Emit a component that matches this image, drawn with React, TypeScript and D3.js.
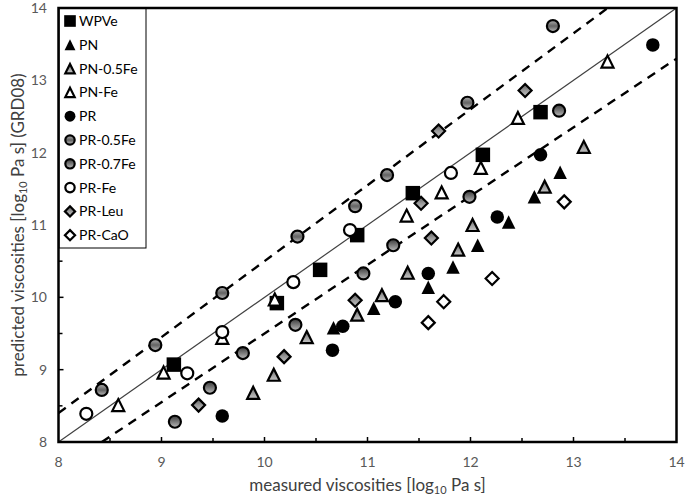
import React from 'react';
import * as d3 from 'd3';

const wpve = [[9.12, 9.07], [10.12, 9.92], [10.54, 10.38], [10.9, 10.86], [11.44, 11.44], [12.12, 11.97], [12.68, 12.56]];
const pn = [[10.67, 9.58], [11.06, 9.85], [11.59, 10.14], [11.83, 10.42], [12.07, 10.72], [12.37, 11.04], [12.62, 11.39], [12.87, 11.73]];
const pn05fe = [[9.89, 8.68], [10.09, 8.93], [10.41, 9.45], [10.9, 9.76], [11.14, 10.03], [11.39, 10.34], [11.88, 10.66], [12.02, 11.0], [12.72, 11.53], [13.1, 12.08]];
const pnfe = [[8.58, 8.51], [9.02, 8.96], [9.59, 9.44], [10.1, 9.97], [11.38, 11.13], [11.72, 11.45], [12.1, 11.79], [12.46, 12.48], [13.33, 13.26]];
const pr = [[9.59, 8.36], [10.66, 9.27], [10.76, 9.6], [11.27, 9.94], [11.59, 10.33], [12.26, 11.11], [12.68, 11.97], [13.77, 13.49]];
const pr05fe = [[8.42, 8.72], [8.94, 9.34], [9.59, 10.06], [10.32, 10.84], [10.88, 11.26], [11.19, 11.69], [11.97, 12.69], [12.8, 13.75]];
const pr07fe = [[9.13, 8.28], [9.47, 8.75], [9.79, 9.23], [10.3, 9.62], [10.96, 10.33], [11.25, 10.72], [11.99, 11.39], [12.86, 12.58]];
const prfe = [[8.27, 8.39], [9.25, 8.95], [9.59, 9.52], [10.28, 10.21], [10.83, 10.93], [11.81, 11.72]];
const prleu = [[9.36, 8.51], [10.19, 9.18], [10.88, 9.96], [11.62, 10.82], [11.52, 11.3], [11.69, 12.3], [12.53, 12.86]];
const prcao = [[11.59, 9.65], [11.74, 9.94], [12.21, 10.26], [12.91, 11.32]];

// 1:1 line and the +/-5 % lines
const oneToOne = [[8, 8], [14, 14]];
const upperBand = [[8, 8.4], [13.333, 14]];
const lowerBand = [[8.421, 8], [14, 13.3]];

const axisTicks = [8, 9, 10, 11, 12, 13, 14];
const halfTicks = [8.5, 9, 9.5, 10, 10.5, 11, 11.5, 12, 12.5, 13, 13.5];

type Shape = 'square' | 'triangle' | 'circle' | 'diamond';
const series: { name: string; data: number[][]; shape: Shape; fill: string }[] = [
  { name: 'WPVe', data: wpve, shape: 'square', fill: '#000' },
  { name: 'PN', data: pn, shape: 'triangle', fill: '#000' },
  { name: 'PN-0.5Fe', data: pn05fe, shape: 'triangle', fill: 'url(#gGray)' },
  { name: 'PN-Fe', data: pnfe, shape: 'triangle', fill: '#fff' },
  { name: 'PR', data: pr, shape: 'circle', fill: '#000' },
  { name: 'PR-0.5Fe', data: pr05fe, shape: 'circle', fill: 'url(#gLight)' },
  { name: 'PR-0.7Fe', data: pr07fe, shape: 'circle', fill: 'url(#gDark)' },
  { name: 'PR-Fe', data: prfe, shape: 'circle', fill: '#fff' },
  { name: 'PR-Leu', data: prleu, shape: 'diamond', fill: 'url(#gGray)' },
  { name: 'PR-CaO', data: prcao, shape: 'diamond', fill: '#fff' },
];

const W = 685, H = 500;
const left = 58.5, right = 676.5, top = 8, bottom = 442;
const font = 'Lato, "Open Sans", sans-serif';

function markerPath(shape: Shape, s: number) {
  const h = s / 2;
  switch (shape) {
    case 'square':
      return `M${-h},${-h}H${h}V${h}H${-h}Z`;
    case 'triangle':
      return `M0,${-h}L${h},${h}L${-h},${h}Z`;
    case 'diamond':
      return `M0,${-h}L${h},0L0,${h}L${-h},0Z`;
    default:
      return d3.arc()({ innerRadius: 0, outerRadius: h, startAngle: 0, endAngle: 2 * Math.PI }) as string;
  }
}

function Marker({ shape, fill, x, y, small }: { shape: Shape; fill: string; x: number; y: number; small?: boolean }) {
  const black = fill === '#000';
  const size = shape === 'square' ? 13 : shape === 'diamond' ? 13 : 12;
  const s = small ? size * 0.78 : size;
  return (
    <path
      d={markerPath(shape, black ? s + 1.5 : s)}
      transform={`translate(${x},${y})`}
      fill={fill}
      stroke="#000"
      strokeWidth={black ? 0 : 2.2}
      strokeLinejoin="miter"
    />
  );
}

export default function App() {
  const x = d3.scaleLinear().domain([8, 14]).range([left, right]);
  const y = d3.scaleLinear().domain([8, 14]).range([bottom, top]);
  const line = d3.line<number[]>().x(d => x(d[0])).y(d => y(d[1]));

  return (
    <svg width={W} height={H} style={{ position: 'absolute', left: 0, top: 0, background: '#fff' }}>
      <defs>
        <linearGradient id="gGray" x1="0" y1="0" x2="0" y2="1">
          <stop offset="0" stopColor="#5a5a5a" />
          <stop offset="0.5" stopColor="#9a9a9a" />
          <stop offset="1" stopColor="#c8c8c8" />
        </linearGradient>
        <linearGradient id="gLight" x1="0" y1="0" x2="0" y2="1">
          <stop offset="0" stopColor="#b0b0b0" />
          <stop offset="0.45" stopColor="#6a6a6a" />
          <stop offset="0.55" stopColor="#6a6a6a" />
          <stop offset="1" stopColor="#c0c0c0" />
        </linearGradient>
        <linearGradient id="gDark" x1="0" y1="0" x2="0" y2="1">
          <stop offset="0" stopColor="#3a3a3a" />
          <stop offset="0.5" stopColor="#7a7a7a" />
          <stop offset="1" stopColor="#bdbdbd" />
        </linearGradient>
        <clipPath id="plotClip">
          <rect x={left} y={top} width={right - left} height={bottom - top} />
        </clipPath>
      </defs>

      <g clipPath="url(#plotClip)">
        <path d={line(oneToOne) as string} stroke="#404040" strokeWidth={1.2} fill="none" />
        <path d={line(upperBand) as string} stroke="#000" strokeWidth={2.4} strokeDasharray="9,7" fill="none" />
        <path d={line(lowerBand) as string} stroke="#000" strokeWidth={2.4} strokeDasharray="9,7" fill="none" />
      </g>

      {/* ticks inside the frame */}
      {halfTicks.map(t => (
        <g key={t}>
          <line x1={x(t)} x2={x(t)} y1={bottom} y2={bottom - (Number.isInteger(t) ? 5 : 4)} stroke="#000" strokeWidth={1.5} />
          <line x1={left} x2={left + (Number.isInteger(t) ? 5 : 4)} y1={y(t)} y2={y(t)} stroke="#000" strokeWidth={1.5} />
        </g>
      ))}

      {series.map(s => (
        <g key={s.name}>
          {s.data.map((d, i) => (
            <Marker key={i} shape={s.shape} fill={s.fill} x={x(d[0])} y={y(d[1])} />
          ))}
        </g>
      ))}

      {/* legend */}
      <rect x={59} y={top} width={87} height={240} fill="#fff" stroke="#000" strokeWidth={1} />
      {series.map((s, i) => (
        <g key={s.name} transform={`translate(0,${21 + i * 23.8})`}>
          <Marker shape={s.shape} fill={s.fill} x={70} y={0} small />
          <text x={79} y={0} dy="0.36em" fontFamily={font} fontSize={14} fill="#000">{s.name}</text>
        </g>
      ))}

      <rect x={left} y={top} width={right - left} height={bottom - top} fill="none" stroke="#000" strokeWidth={2.5} />

      {axisTicks.map(t => (
        <text key={'x' + t} x={x(t)} y={462} textAnchor="middle" dy="0.36em" fontFamily={font} fontSize={14} fill="#595959">{t}</text>
      ))}
      {axisTicks.map(t => (
        <text key={'y' + t} x={47} y={y(t)} textAnchor="end" dy="0.36em" fontFamily={font} fontSize={14} fill="#595959">{t}</text>
      ))}

      <text x={(left + right) / 2} y={491} textAnchor="middle" fontFamily={font} fontSize={17} fill="#404040">
        measured viscosities [log<tspan fontSize={11} dy={3}>10</tspan><tspan dy={-3}> Pa s]</tspan>
      </text>
      <text transform={`translate(24,${(top + bottom) / 2}) rotate(-90)`} textAnchor="middle" fontFamily={font} fontSize={17} fill="#404040">
        predicted viscosities [log<tspan fontSize={11} dy={3}>10</tspan><tspan dy={-3}> Pa s] (GRD08)</tspan>
      </text>
    </svg>
  );
}
